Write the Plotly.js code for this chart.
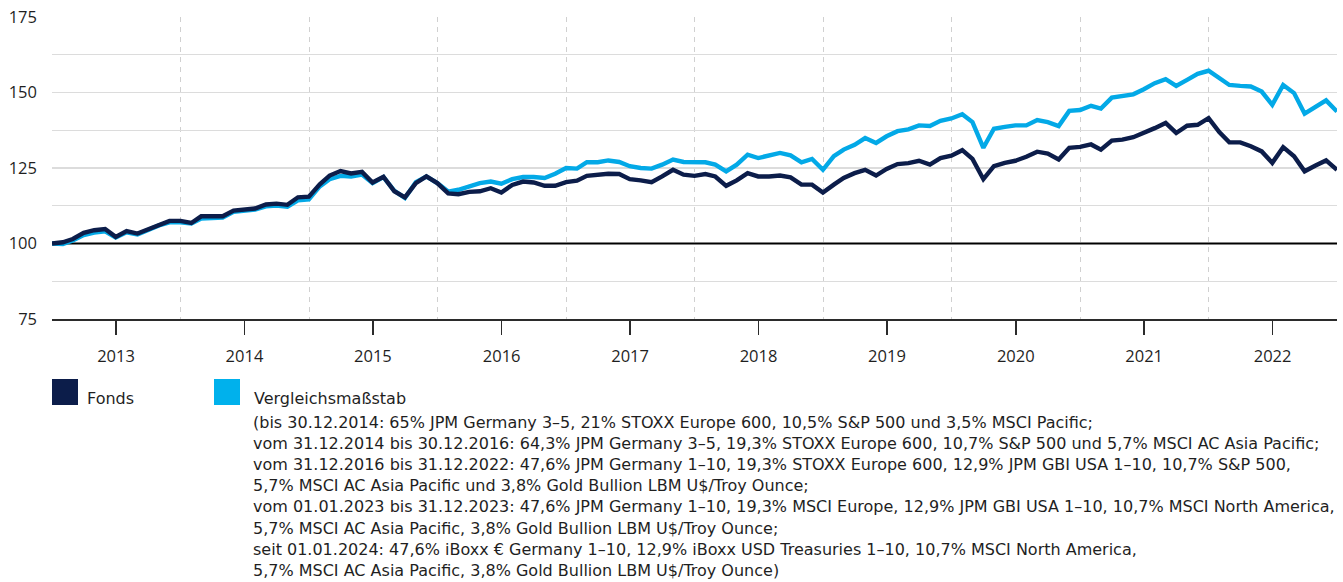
<!DOCTYPE html>
<html>
<head>
<meta charset="utf-8">
<script src="https://cdn.plot.ly/plotly-3.0.1.min.js"></script>
<style>
  html, body { margin: 0; padding: 0; background: #ffffff; }
  #chart { width: 1343px; height: 582px; }
</style>
</head>
<body>
<div id="chart"></div>
<script>
// ---- data (monthly, month-end, Dec 2012 = 100) ----
const startYear = 2012;
const startMonth = 12; // December 2012

const fonds = [
  100.0,100.4,101.5,103.5,104.4,104.8,102.2,104.1,103.3,104.8,106.3,107.5,
  107.5,106.8,109.0,109.0,109.0,110.9,111.2,111.6,112.9,113.2,112.8,115.3,
  115.5,119.6,122.5,124.0,123.2,123.7,120.2,122.1,117.3,115.3,120.0,122.2,
  120.0,116.6,116.3,117.1,117.3,118.3,116.9,119.4,120.5,120.2,119.1,119.1,
  120.3,120.8,122.4,122.8,123.1,123.0,121.3,120.9,120.3,122.2,124.4,122.8,
  122.4,123.0,122.2,119.1,120.9,123.3,122.2,122.2,122.5,121.9,119.5,119.5,
  116.9,119.5,121.7,123.3,124.4,122.5,124.7,126.3,126.6,127.4,126.1,128.3,
  129.1,130.9,128.0,121.3,125.6,126.7,127.4,128.7,130.4,129.8,127.8,131.7,
  132.0,132.8,131.1,134.1,134.4,135.2,136.6,138.2,139.9,136.6,139.0,139.3,
  141.5,136.8,133.5,133.5,132.2,130.5,126.7,131.9,128.9,123.9,125.8,127.5,
  124.4
];

const benchmark = [
  100.0, 99.8,101.0,102.8,103.6,104.0,102.0,103.7,103.0,104.6,106.0,107.0,
  107.0,106.6,108.3,108.4,108.6,110.5,110.9,111.2,112.3,112.6,112.2,114.3,
  114.6,118.9,121.3,122.4,122.2,122.8,120.0,122.0,117.4,115.1,120.3,122.2,
  120.0,117.2,117.8,119.1,120.0,120.5,119.8,121.3,122.0,122.0,121.7,123.1,
  125.0,124.8,126.9,126.9,127.5,127.0,125.6,125.0,124.8,126.1,127.8,127.0,
  126.8,126.9,126.1,123.9,126.1,129.4,128.3,129.2,130.0,129.2,126.9,128.0,
  124.4,128.9,131.1,132.7,134.9,133.3,135.5,137.2,137.8,139.1,138.9,140.6,
  141.4,142.8,140.2,131.7,138.0,138.6,139.1,139.1,140.9,140.2,138.9,143.9,
  144.2,145.6,144.7,148.3,148.7,149.4,151.1,153.1,154.4,152.2,154.2,156.2,
  157.2,154.7,152.5,152.2,152.0,150.3,145.9,152.5,149.8,143.0,145.2,147.4,
  143.7
];

const yearLabels = ['2013','2014','2015','2016','2017','2018','2019','2020','2021','2022'];
const yTicks = [75, 100, 125, 150, 175];
const baseValue = 100;

const seriesNames = ['Fonds', 'Vergleichsmaßstab'];
const benchmarkNote = [
  '(bis 30.12.2014: 65% JPM Germany 3–5, 21% STOXX Europe 600, 10,5% S&P 500 und 3,5% MSCI Pacific;',
  'vom 31.12.2014 bis 30.12.2016: 64,3% JPM Germany 3–5, 19,3% STOXX Europe 600, 10,7% S&P 500 und 5,7% MSCI AC Asia Pacific;',
  'vom 31.12.2016 bis 31.12.2022: 47,6% JPM Germany 1–10, 19,3% STOXX Europe 600, 12,9% JPM GBI USA 1–10, 10,7% S&P 500,',
  '5,7% MSCI AC Asia Pacific und 3,8% Gold Bullion LBM U$/Troy Ounce;',
  'vom 01.01.2023 bis 31.12.2023: 47,6% JPM Germany 1–10, 19,3% MSCI Europe, 12,9% JPM GBI USA 1–10, 10,7% MSCI North America,',
  '5,7% MSCI AC Asia Pacific, 3,8% Gold Bullion LBM U$/Troy Ounce;',
  'seit 01.01.2024: 47,6% iBoxx € Germany 1–10, 12,9% iBoxx USD Treasuries 1–10, 10,7% MSCI North America,',
  '5,7% MSCI AC Asia Pacific, 3,8% Gold Bullion LBM U$/Troy Ounce)'
];

// ---- month-end dates for the monthly series ----
function pad(n) { return (n < 10 ? '0' : '') + n; }
function monthEnd(y, m) {
  const d = new Date(Date.UTC(y, m, 0)).getUTCDate();
  return y + '-' + pad(m) + '-' + pad(d);
}
const dates = fonds.map((_, i) => {
  const idx = (startMonth - 1) + i;
  const y = startYear + Math.floor(idx / 12);
  const m = (idx % 12) + 1;
  return monthEnd(y, m);
});

const labelDates = yearLabels.map(y => y + '-07-01');
const boundaryDates = yearLabels.slice(1).map(y => y + '-01-01');
const firstDate = dates[0], lastDate = dates[dates.length - 1];

const NAVY = '#0c1d4a';
const CYAN = '#03a9e7';
const FONT = 'Open Sans, sans-serif';
const LFONT = 'DejaVu Sans, sans-serif';
const TXT = '#1f1f1f';
const LEG = 16;

const traces = [
  { x: [firstDate, lastDate], y: [baseValue, baseValue], type: 'scatter', mode: 'lines',
    line: { color: '#000000', width: 1.8 }, hoverinfo: 'skip', showlegend: false, cliponaxis: false },
  { x: dates, y: benchmark, name: seriesNames[1], type: 'scatter', mode: 'lines',
    line: { color: CYAN, width: 4.4, shape: 'linear' }, hoverinfo: 'skip' },
  { x: dates, y: fonds, name: seriesNames[0], type: 'scatter', mode: 'lines',
    line: { color: NAVY, width: 4.4, shape: 'linear' }, hoverinfo: 'skip' }
];

// plot area in pixels: left 52, right 1337, top 17, bottom 319
const L = 52, R = 1337, T = 17, B = 319;
const W = R - L, H = B - T;
const px = x => (x - L) / W;
const py = y => (B - y) / H;

const annotations = [
  { xref: 'paper', yref: 'paper', x: px(85), y: py(398), xanchor: 'left', yanchor: 'middle',
    text: seriesNames[0], showarrow: false, font: { family: LFONT, size: LEG, color: TXT } },
  { xref: 'paper', yref: 'paper', x: px(252), y: py(398), xanchor: 'left', yanchor: 'middle',
    text: seriesNames[1], showarrow: false, font: { family: LFONT, size: LEG, color: TXT } }
];
benchmarkNote.forEach((line, i) => {
  annotations.push({ xref: 'paper', yref: 'paper', x: px(252), y: py(422.5 + i * 21.1), xanchor: 'left',
    yanchor: 'middle', align: 'left', text: line, showarrow: false, borderpad: 0,
    font: { family: LFONT, size: LEG, color: TXT } });
});

const layout = {
  width: 1343, height: 582,
  margin: { l: L, r: 1343 - R, t: T, b: 582 - B, pad: 0 },
  paper_bgcolor: '#ffffff', plot_bgcolor: '#ffffff',
  showlegend: false,
  font: { family: FONT, size: 16, color: TXT },
  xaxis: {
    type: 'date',
    range: [firstDate, lastDate],
    tickmode: 'array', tickvals: labelDates, ticktext: yearLabels,
    ticks: 'outside', ticklen: 14, tickwidth: 1.6, tickcolor: '#2b2b2b',
    ticklabelstandoff: 8,
    showgrid: false, zeroline: false,
    showline: true, linecolor: '#2b2b2b', linewidth: 1.6,
    tickfont: { family: FONT, size: 16.5, color: TXT },
    minor: { tickmode: 'array', tickvals: boundaryDates, ticks: '', showgrid: true,
             gridcolor: '#d0d0d0', gridwidth: 1, griddash: '5px,5px' },
    fixedrange: true
  },
  yaxis: {
    range: [75, 175],
    tickmode: 'array', tickvals: yTicks, ticktext: yTicks.map(String),
    ticks: '', showline: false, zeroline: false,
    showgrid: true, gridcolor: '#dcdcdc', gridwidth: 1.4,
    minor: { dtick: 12.5, tick0: 75, ticks: '', showgrid: true, gridcolor: '#dcdcdc', gridwidth: 1.4 },
    ticklabelstandoff: 14,
    tickfont: { family: FONT, size: 16.5, color: TXT },
    fixedrange: true
  },
  shapes: [
    { type: 'rect', xref: 'paper', yref: 'paper', x0: px(52), x1: px(78), y0: py(405), y1: py(379),
      fillcolor: NAVY, line: { width: 0 } },
    { type: 'rect', xref: 'paper', yref: 'paper', x0: px(214), x1: px(240), y0: py(405), y1: py(379),
      fillcolor: '#00b1ec', line: { width: 0 } }
  ],
  annotations: annotations
};

Plotly.newPlot('chart', traces, layout, { staticPlot: true, displayModeBar: false });
</script>
</body>
</html>
